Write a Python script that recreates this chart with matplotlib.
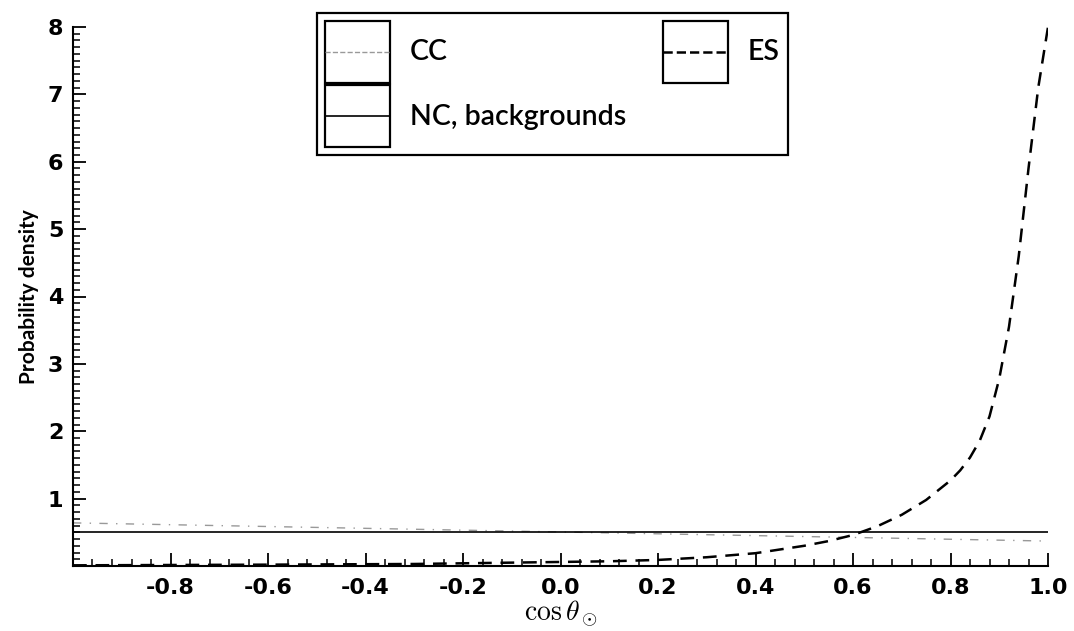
import matplotlib
matplotlib.use("Agg")
import matplotlib.pyplot as plt
from matplotlib.legend_handler import HandlerBase
from matplotlib.patches import Rectangle
from matplotlib.lines import Line2D
from matplotlib.ticker import MultipleLocator, FixedLocator

plt.rcParams['font.family'] = ['Lato', 'DejaVu Sans']
plt.rcParams['mathtext.fontset'] = 'cm'

# ---- data ----
nc_x = [-1.0, 1.0]
nc_y = [0.5, 0.5]

cc_x = [-1.0, 1.0]
cc_y = [0.64, 0.37]

es_x = [-1.0, -0.6, -0.3, -0.2, -0.1, 0.0, 0.1, 0.2, 0.3, 0.4, 0.5, 0.55, 0.6, 0.65,
        0.7, 0.75, 0.8, 0.82, 0.84, 0.86, 0.88, 0.9, 0.92, 0.94, 0.96, 0.98, 1.0]
es_y = [0.01, 0.02, 0.03, 0.04, 0.05, 0.06, 0.07, 0.09, 0.13, 0.19, 0.30, 0.37, 0.46, 0.59,
        0.76, 0.98, 1.27, 1.42, 1.61, 1.86, 2.22, 2.78, 3.55, 4.6, 5.9, 7.1, 8.0]

x_ticks = [-0.8, -0.6, -0.4, -0.2, 0.0, 0.2, 0.4, 0.6, 0.8, 1.0]
y_ticks = [1, 2, 3, 4, 5, 6, 7, 8]

fig = plt.figure(figsize=(10.74, 6.31), dpi=100)
ax = fig.add_axes([73/1074, 65/631, (1048-73)/1074, (566-27)/631])

l_cc, = ax.plot(cc_x, cc_y, color='#999999', lw=1.0, linestyle=(0, (6, 6, 1, 6)))
l_nc, = ax.plot(nc_x, nc_y, color='black', lw=1.2)
l_es, = ax.plot(es_x, es_y, color='black', lw=1.8, linestyle=(0, (5.5, 3.5)))

ax.set_xlim(-1, 1)
ax.set_ylim(0, 8)
for s in ['top', 'right']:
    ax.spines[s].set_visible(False)
for s in ['left', 'bottom']:
    ax.spines[s].set_linewidth(1.5)

ax.xaxis.set_major_locator(FixedLocator(x_ticks))
ax.xaxis.set_minor_locator(MultipleLocator(0.04))
ax.yaxis.set_major_locator(FixedLocator(y_ticks))
ax.yaxis.set_minor_locator(MultipleLocator(0.1))
ax.set_xticklabels([f"{v:.1f}" for v in x_ticks])
ax.set_yticklabels([str(v) for v in y_ticks])
ax.tick_params(which='major', direction='in', length=9.5, width=1.3, labelsize=16)
ax.tick_params(which='minor', direction='in', length=5, width=1.1)
ax.tick_params(axis='x', which='both', pad=9)
ax.tick_params(axis='y', which='both', pad=7)
for lab in ax.get_xticklabels() + ax.get_yticklabels():
    lab.set_fontfamily(['DejaVu Sans'])
    lab.set_fontweight('bold')

ax.set_xlabel(r'$\cos\theta_\odot$', fontsize=20, labelpad=0)
ax.set_ylabel('Probability density', fontsize=15, fontweight='bold', labelpad=6)


class BoxHandler(HandlerBase):
    def create_artists(self, legend, orig_handle, xdescent, ydescent, width, height,
                       fontsize, trans):
        rect = Rectangle((-xdescent, -ydescent), width, height, fill=False,
                         edgecolor='black', lw=1.6, transform=trans)
        ymid = -ydescent + height / 2
        line = Line2D([-xdescent, -xdescent + width], [ymid, ymid],
                      color=orig_handle.get_color(), lw=orig_handle.get_linewidth(),
                      linestyle=orig_handle.get_linestyle(), transform=trans)
        return [rect, line]


leg = ax.legend([l_cc, l_nc, l_es], ['CC', 'NC, backgrounds', 'ES'],
                handler_map={Line2D: BoxHandler()}, ncol=2,
                loc='upper left', bbox_to_anchor=(317/1074, 1 - 13/631),
                bbox_transform=fig.transFigure,
                prop={'family': ['Lato', 'DejaVu Sans'], 'size': 20.5, 'weight': 'semibold'},
                handlelength=2.28, handleheight=2.95, labelspacing=0.1,
                handletextpad=0.7, columnspacing=1.3, borderpad=0.28,
                borderaxespad=0, fancybox=False, framealpha=1)
leg.get_frame().set_edgecolor('black')
leg.get_frame().set_linewidth(1.6)

fig.savefig('out.png', dpi=100)
